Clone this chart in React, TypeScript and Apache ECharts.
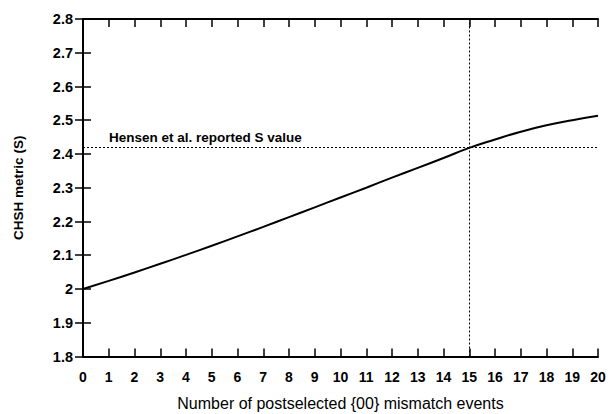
import React, { useEffect, useRef } from "react";
import * as echarts from "echarts";

const xValues = [0, 1, 2, 3, 4, 5, 6, 7, 8, 9, 10, 11, 12, 13, 14, 15, 16, 17, 18, 19, 20];
const sValues = [2.0, 2.024, 2.049, 2.075, 2.101, 2.128, 2.156, 2.184, 2.213, 2.242, 2.271, 2.3, 2.33, 2.359, 2.388, 2.418, 2.443, 2.466, 2.485, 2.5, 2.513];
const hensenS = 2.42;
const crossX = 15;
const hensenLabel = "Hensen et al. reported S value";
const xName = "Number of postselected {00} mismatch events";
const yName = "CHSH metric (S)";

const FONT = "'Liberation Sans', Arial, sans-serif";

export default function App() {
  const ref = useRef<HTMLDivElement>(null);
  useEffect(() => {
    if (!ref.current) return;
    const chart = echarts.init(ref.current, undefined, { renderer: "svg" });
    const axisLine = { show: true, lineStyle: { color: "#000", width: 2 } };
    const axisTick = { show: true, inside: true, length: 8, lineStyle: { color: "#000", width: 1.5 } };
    const xCommon = { type: "value", min: 0, max: 20, interval: 1, splitLine: { show: false }, axisLine, axisTick };
    const yCommon = { type: "value", min: 1.8, max: 2.8, interval: 0.1, splitLine: { show: false }, axisLine, axisTick };
    chart.setOption({
      animation: false,
      grid: { left: 83, right: 13, top: 19, bottom: 57.5, outerBoundsMode: "none", containLabel: false },
      xAxis: [
        {
          ...xCommon,
          position: "bottom",
          name: xName,
          nameLocation: "middle",
          nameGap: 39,
          nameTextStyle: { fontFamily: FONT, fontSize: 16, color: "#000" },
          axisLabel: { fontFamily: FONT, fontSize: 14, fontWeight: "bold", color: "#000", margin: 13 },
        },
        { ...xCommon, position: "top", axisLabel: { show: false } },
      ],
      yAxis: [
        {
          ...yCommon,
          position: "left",
          name: yName,
          nameLocation: "middle",
          nameGap: 58,
          nameTextStyle: { fontFamily: FONT, fontSize: 13.5, fontWeight: "bold", color: "#000" },
          axisLabel: {
            fontFamily: FONT,
            fontSize: 14.5,
            fontWeight: "bold",
            color: "#000",
            margin: 10,
            formatter: (v: number) => String(Math.round(v * 10) / 10),
          },
        },
        { ...yCommon, position: "right", axisLabel: { show: false } },
      ],
      series: [
        {
          type: "line",
          data: xValues.map((x, i) => [x, sValues[i]]),
          smooth: true,
          symbol: "none",
          lineStyle: { color: "#000", width: 2 },
          markLine: {
            silent: true,
            symbol: "none",
            lineStyle: { color: "#000", width: 1, type: [2, 2] },
            data: [
              {
                yAxis: hensenS,
                label: {
                  show: true,
                  position: "insideStartTop",
                  formatter: hensenLabel,
                  fontFamily: FONT,
                  fontSize: 13.5,
                  fontWeight: "bold",
                  color: "#000",
                  distance: [26, 3],
                },
              },
              { xAxis: crossX, label: { show: false } },
            ],
          },
        },
      ],
    });
    return () => chart.dispose();
  }, []);
  return <div ref={ref} style={{ position: "absolute", left: 0, top: 0, width: 611, height: 414 }} />;
}
